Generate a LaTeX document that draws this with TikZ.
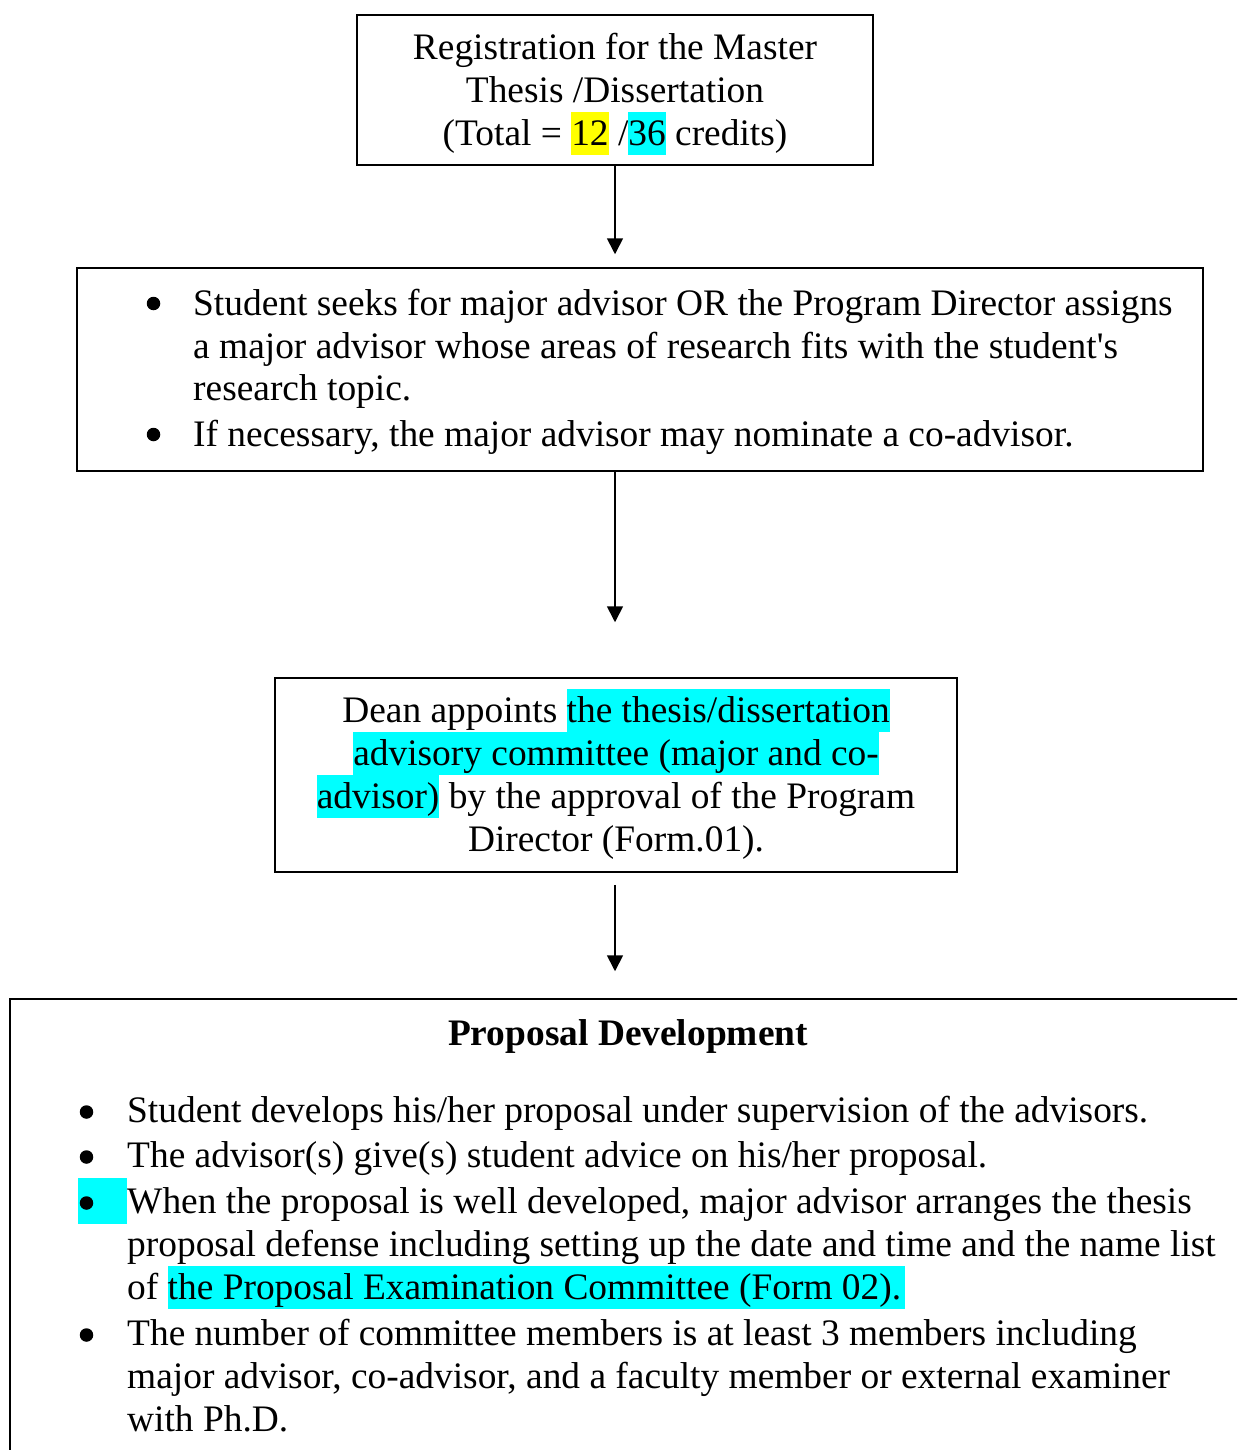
\documentclass[tikz,border=0pt]{standalone}
\usepackage{fontspec}
\setmainfont{Liberation Serif}
\newfontfamily\aposfont{Liberation Serif}
\usetikzlibrary{arrows.meta}
\definecolor{hlyellow}{RGB}{255,255,0}
\definecolor{hlcyan}{RGB}{0,255,255}
\newcommand\myhl[2]{{\setlength{\fboxsep}{0pt}\colorbox{#1}{\rule[-9.5pt]{0pt}{43pt}#2}}}
\begin{document}
\begin{tikzpicture}[x=1pt,y=-1pt,
  box/.style={draw=black,line width=1.5pt,inner sep=0pt,fill=none},
  txt/.style={inner sep=0pt,anchor=base,font=\fontsize{37.4}{43}\selectfont},
  ltxt/.style={txt,anchor=base west},
  dot/.style={circle,fill=black,inner sep=0pt,minimum size=13.5pt},
  arr/.style={line width=1.7pt,-{Triangle[width=16pt,length=16pt]}}]
\useasboundingbox (0,0) rectangle (1237,1450);
\clip (0,0) rectangle (1237,1450);
\fill[white] (0,0) rectangle (1237,1450);

% Box 1
\node[box,minimum width=516pt,minimum height=150pt] (reg) at (615,90) {};
\node[txt] (r1) at (615,60) {Registration for the Master};
\node[txt] (r2) at (615,103) {Thesis /Dissertation};
\node[txt] (r3) at (615,146) {(Total = \myhl{hlyellow}{12} /\myhl{hlcyan}{36} credits)};

% Box 2
\node[box,minimum width=1126pt,minimum height=203pt] (adv) at (640,369.5) {};
\node[dot] (ab1) at (153.5,303.5) {};
\node[ltxt] (a1) at (193,315) {Student seeks for major advisor OR the Program Director assigns};
\node[ltxt] (a2) at (193,358) {a major advisor whose areas of research fits with the student{\aposfont'}s};
\node[ltxt] (a3) at (193,400) {research topic.};
\node[dot] (ab2) at (153.5,434.5) {};
\node[ltxt] (a4) at (193,446) {If necessary, the major advisor may nominate a co-advisor.};

% Box 3
\node[box,minimum width=682pt,minimum height=194pt] (dean) at (616,775) {};
\node[txt] (d1) at (616,722) {Dean appoints \myhl{hlcyan}{the thesis/dissertation}};
\node[txt] (d2) at (616,765) {\myhl{hlcyan}{advisory committee (major and co-}};
\node[txt] (d3) at (616,808) {\myhl{hlcyan}{advisor)} by the approval of the Program};
\node[txt] (d4) at (616,851) {Director (Form.01).};

% Box 4
\node[box,minimum width=1240pt,minimum height=462pt] (prop) at (630,1230) {};
\node[txt,font=\fontsize{37.4}{43}\selectfont\bfseries] (pt) at (628,1045) {Proposal Development};
\node[fill=hlcyan,inner sep=0pt,minimum width=49pt,minimum height=46pt] (hlb) at (102.5,1201) {};
\node[dot] (pb1) at (86.5,1112) {};
\node[ltxt] (p1) at (127,1122) {Student develops his/her proposal under supervision of the advisors.};
\node[dot] (pb2) at (86.5,1157) {};
\node[ltxt] (p2) at (127,1167) {The advisor(s) give(s) student advice on his/her proposal.};
\node[dot] (pb3) at (86.5,1203) {};
\node[ltxt] (p3) at (127,1213) {When the proposal is well developed, major advisor arranges the thesis};
\node[ltxt] (p4) at (127,1256) {proposal defense including setting up the date and time and the name list};
\node[ltxt] (p5) at (127,1299) {of \myhl{hlcyan}{the Proposal Examination Committee (Form 02).\kern4pt}};
\node[dot] (pb4) at (86.5,1335) {};
\node[ltxt] (p6) at (127,1345) {The number of committee members is at least 3 members including};
\node[ltxt] (p7) at (127,1388) {major advisor, co-advisor, and a faculty member or external examiner};
\node[ltxt] (p8) at (127,1431) {with Ph.D.};

% Connectors
\draw[arr] (reg.south) -- ([yshift=13pt]reg.south |- adv.north);
\draw[arr] (reg.south |- adv.south) -- ([yshift=55pt]reg.south |- dean.north);
\draw[arr] ([yshift=-12pt]reg.south |- dean.south) -- ([yshift=27pt]reg.south |- prop.north);
\end{tikzpicture}
\end{document}
